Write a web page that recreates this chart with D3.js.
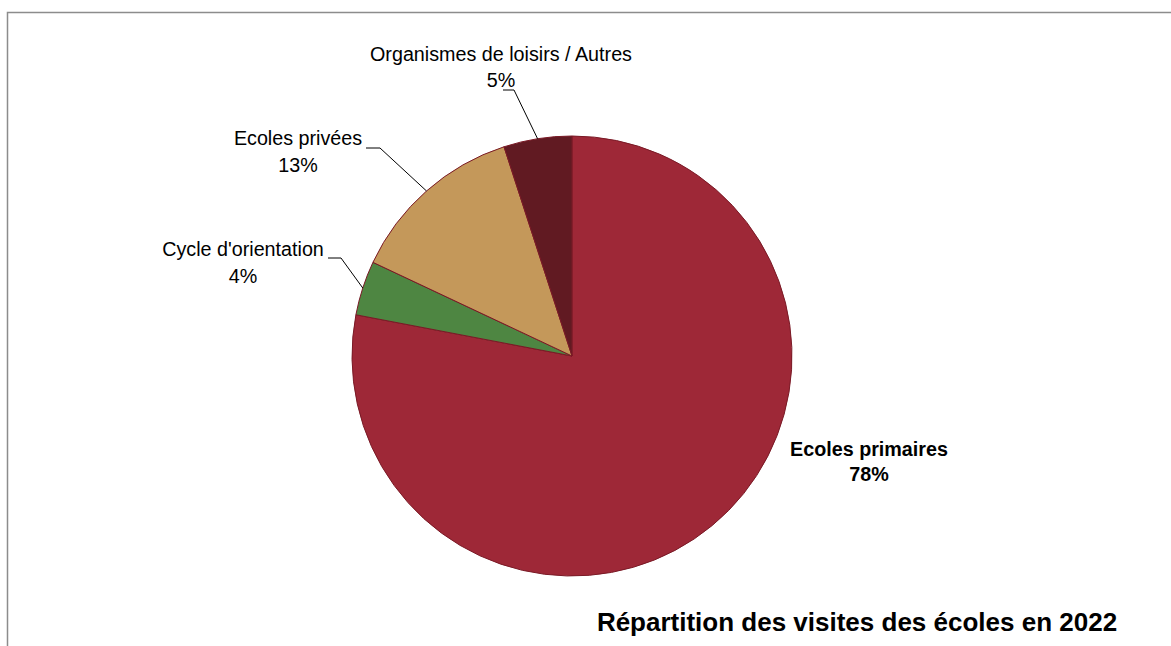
<!DOCTYPE html>
<html><head><meta charset="utf-8">
<script src="https://cdn.jsdelivr.net/npm/d3@7/dist/d3.min.js"></script>
<style>
html,body{margin:0;padding:0;background:#fff;}
text{font-family:"Liberation Sans Narrow","Arial Narrow","Liberation Sans",Arial,sans-serif;}
</style></head>
<body>
<svg id="c" width="1171" height="646"></svg>
<script>
const categories = ["Ecoles primaires", "Cycle d'orientation", "Ecoles privées", "Organismes de loisirs / Autres"];
const values = [78, 4, 13, 5];
const colors = ["#9e2837", "#4e8642", "#c4985a", "#611a22"];
const title = "Répartition des visites des écoles en 2022";

// label layout: text center x, first baseline y, line gap, leader elbow
const labelLayout = [
  {x: 869, y: 456, gap: 25, bold: true, leader: null},
  {x: 243, y: 256, gap: 27, bold: false, leader: {x0: 328, x1: 341, y: 258}},
  {x: 298, y: 145, gap: 27, bold: false, leader: {x0: 366, x1: 380, y: 148}},
  {x: 501, y: 61, gap: 26, bold: false, leader: {x0: 503, x1: 514, y: 90}}
];

const svg = d3.select("#c");
const cx = 572, cy = 356, r = 220;

// frame
svg.append("path").attr("d", "M7.5,646 V12.5 H1171")
  .attr("fill", "none").attr("stroke", "#8c8c8c").attr("stroke-width", 1.5);

const pie = d3.pie().sort(null).value(d => d)(values);
const arc = d3.arc().innerRadius(0).outerRadius(r);
const g = svg.append("g").attr("transform", `translate(${cx},${cy})`);
g.selectAll("path").data(pie).join("path")
  .attr("d", arc)
  .attr("fill", (d, i) => colors[i])
  .attr("stroke", "#7a1a26").attr("stroke-width", 1);

// labels
pie.forEach((d, i) => {
  const L = labelLayout[i];
  const lg = svg.append("g").attr("transform", `translate(${L.x},0) scale(0.94,1)`);
  const t = lg.append("text").attr("text-anchor", "middle")
    .attr("font-size", 21).attr("fill", "#000")
    .attr("font-weight", L.bold ? "bold" : "normal");
  t.append("tspan").attr("x", 0).attr("y", L.y).text(categories[i]);
  t.append("tspan").attr("x", 0).attr("y", L.y + L.gap).text(values[i] + "%");
  if (L.leader) {
    const mid = (d.startAngle + d.endAngle) / 2;
    const px = cx + r * Math.sin(mid), py = cy - r * Math.cos(mid);
    svg.append("path")
      .attr("d", `M${L.leader.x0},${L.leader.y} H${L.leader.x1} L${px},${py}`)
      .attr("fill", "none").attr("stroke", "#000").attr("stroke-width", 1);
  }
});

svg.append("text").attr("x", 857).attr("y", 631).attr("text-anchor", "middle")
  .attr("font-size", 26).attr("font-weight", "bold").attr("fill", "#000").text(title);
</script>
</body></html>
